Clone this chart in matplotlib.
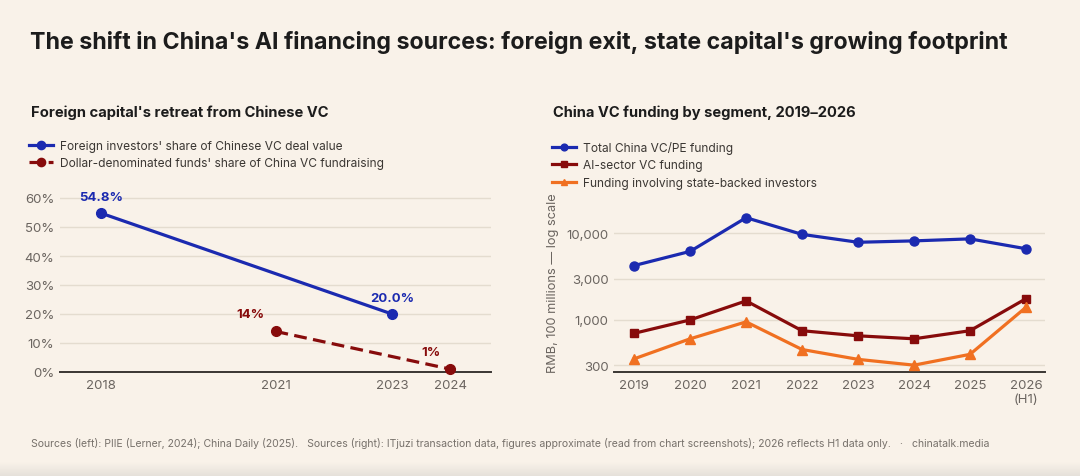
import matplotlib
matplotlib.use("Agg")
import matplotlib.pyplot as plt
import numpy as np
from matplotlib.ticker import FixedLocator, FixedFormatter, NullLocator

plt.rcParams['font.family'] = ['Inter', 'DejaVu Sans']

# ---- data ----
left_years_foreign = [2018, 2023]
left_foreign_share = [54.8, 20.0]
left_years_dollar = [2021, 2024]
left_dollar_share = [14, 1]
left_xticks = [2018, 2021, 2023, 2024]
left_yticks = [0, 10, 20, 30, 40, 50, 60]

right_years = [2019, 2020, 2021, 2022, 2023, 2024, 2025, 2026]
right_xlabels = ["2019", "2020", "2021", "2022", "2023", "2024", "2025", "2026\n(H1)"]
total_vc = [4250, 6200, 15200, 9750, 7900, 8200, 8650, 6650]
ai_vc = [700, 1000, 1660, 750, 655, 605, 750, 1760]
state_vc = [355, 605, 950, 455, 350, 300, 400, 1400]
right_yticks = [300, 1000, 3000, 10000]
right_ylabels = ["300", "1,000", "3,000", "10,000"]

BG = "#f9f2e9"
BLUE = "#1b2ab0"
RED = "#870b0b"
ORANGE = "#f07021"
GRID = "#e4dccf"
TICK = "#6b6560"
DARK = "#1c1c1c"

W, H = 1080, 477
fig = plt.figure(figsize=(W / 100, H / 100), dpi=100, facecolor=BG)

def px_axes(x0, y0, x1, y1, **kw):
    return fig.add_axes([x0 / W, 1 - y1 / H, (x1 - x0) / W, (y1 - y0) / H], **kw)

# subtle bottom shadow
axS = px_axes(0, 463, W, H)
axS.set_axis_off()
grad = np.linspace(0, 1, 50).reshape(-1, 1)
from matplotlib.colors import LinearSegmentedColormap
cm = LinearSegmentedColormap.from_list("sh", [BG, "#e6e1da"])
axS.imshow(grad, aspect='auto', cmap=cm, extent=[0, 1, 1, 0])

fig.text(30 / W, 1 - 42 / H, "The shift in China's AI financing sources: foreign exit, state capital's growing footprint",
         fontsize=16.7, fontweight='bold', color=DARK, va='center', ha='left')

def style(ax):
    ax.set_facecolor(BG)
    for s in ['top', 'right', 'left']:
        ax.spines[s].set_visible(False)
    ax.spines['bottom'].set_color('#3a3633')
    ax.spines['bottom'].set_linewidth(1.4)
    ax.tick_params(axis='both', length=0, labelsize=9.5, labelcolor=TICK)
    ax.tick_params(axis='y', pad=4)
    ax.tick_params(axis='x', pad=5)
    ax.grid(axis='y', color=GRID, linewidth=1.0)
    ax.set_axisbelow(True)

def leg_style(leg):
    for t in leg.get_texts():
        t.set_color("#3b3733")

# ---- left panel ----
axL = px_axes(60, 187.4, 491, 373)
style(axL)
axL.plot(left_years_foreign, left_foreign_share, color=BLUE, lw=2.3, marker='o', ms=7,
         clip_on=False, zorder=3, label="Foreign investors' share of Chinese VC deal value")
axL.plot(left_years_dollar, left_dollar_share, color=RED, lw=2.3, ls=(0, (4, 2)), marker='o', ms=7,
         clip_on=False, zorder=3, label="Dollar-denominated funds' share of China VC fundraising")
axL.set_xlim(2017.3, 2024.7)
axL.set_ylim(0, 64)
axL.set_xticks(left_xticks)
axL.set_xticklabels([str(y) for y in left_xticks])
axL.set_yticks(left_yticks)
axL.set_yticklabels([f"{v}%" for v in left_yticks])

axL.annotate(f"{left_foreign_share[0]:.1f}%", (left_years_foreign[0], left_foreign_share[0]),
             xytext=(0, 7), textcoords='offset points', ha='center', va='bottom',
             color=BLUE, fontsize=9.5, fontweight='bold')
axL.annotate(f"{left_foreign_share[1]:.1f}%", (left_years_foreign[1], left_foreign_share[1]),
             xytext=(0, 7), textcoords='offset points', ha='center', va='bottom',
             color=BLUE, fontsize=9.5, fontweight='bold')
axL.annotate(f"{left_dollar_share[0]}%", (left_years_dollar[0], left_dollar_share[0]),
             xytext=(-18, 8), textcoords='offset points', ha='center', va='bottom',
             color=RED, fontsize=9.5, fontweight='bold')
axL.annotate(f"{left_dollar_share[1]}%", (left_years_dollar[1], left_dollar_share[1]),
             xytext=(-14, 8), textcoords='offset points', ha='center', va='bottom',
             color=RED, fontsize=9.5, fontweight='bold')

fig.text(31 / W, 1 - 113 / H, "Foreign capital's retreat from Chinese VC", fontsize=10.6,
         fontweight='bold', color=DARK, va='center', ha='left')
legL = axL.legend(loc='upper left', bbox_to_anchor=(29 / W, 1 - 141 / H), bbox_transform=fig.transFigure,
                  frameon=False, fontsize=8.6, handlelength=2.0, handletextpad=0.6,
                  labelspacing=0.45, borderpad=0, borderaxespad=0, markerscale=0.85)
leg_style(legL)

# ---- right panel ----
axR = px_axes(614, 200, 1045, 373)
style(axR)
axR.set_yscale('log')
axR.plot(right_years, total_vc, color=BLUE, lw=2.3, marker='o', ms=6.5, clip_on=False, zorder=3,
         label="Total China VC/PE funding")
axR.plot(right_years, ai_vc, color=RED, lw=2.3, marker='s', ms=6, clip_on=False, zorder=3,
         label="AI-sector VC funding")
axR.plot(right_years, state_vc, color=ORANGE, lw=2.3, marker='^', ms=6.5, clip_on=False, zorder=3,
         label="Funding involving state-backed investors")
axR.set_xlim(2018.64, 2026.34)
axR.set_ylim(250, 25000)
axR.set_xticks(right_years)
axR.set_xticklabels(right_xlabels)
axR.yaxis.set_major_locator(FixedLocator(right_yticks))
axR.yaxis.set_major_formatter(FixedFormatter(right_ylabels))
axR.yaxis.set_minor_locator(NullLocator())
axR.set_ylabel("RMB, 100 millions — log scale", fontsize=9.2, color=TICK, labelpad=3)
axR.yaxis.set_label_coords(-0.128, 0.52)

fig.text(553 / W, 1 - 113 / H, "China VC funding by segment, 2019–2026", fontsize=10.6,
         fontweight='bold', color=DARK, va='center', ha='left')
legR = axR.legend(loc='upper left', bbox_to_anchor=(552 / W, 1 - 142 / H), bbox_transform=fig.transFigure,
                  frameon=False, fontsize=8.6, handlelength=2.0, handletextpad=0.6,
                  labelspacing=0.45, borderpad=0, borderaxespad=0, markerscale=0.75)
leg_style(legR)

fig.text(31 / W, 1 - 444 / H,
         "Sources (left): PIIE (Lerner, 2024); China Daily (2025).   Sources (right): ITjuzi transaction data, "
         "figures approximate (read from chart screenshots); 2026 reflects H1 data only.   ·   chinatalk.media",
         fontsize=7.55, color="#77716b", va='center', ha='left')

fig.savefig("out.png", dpi=100, facecolor=BG)
